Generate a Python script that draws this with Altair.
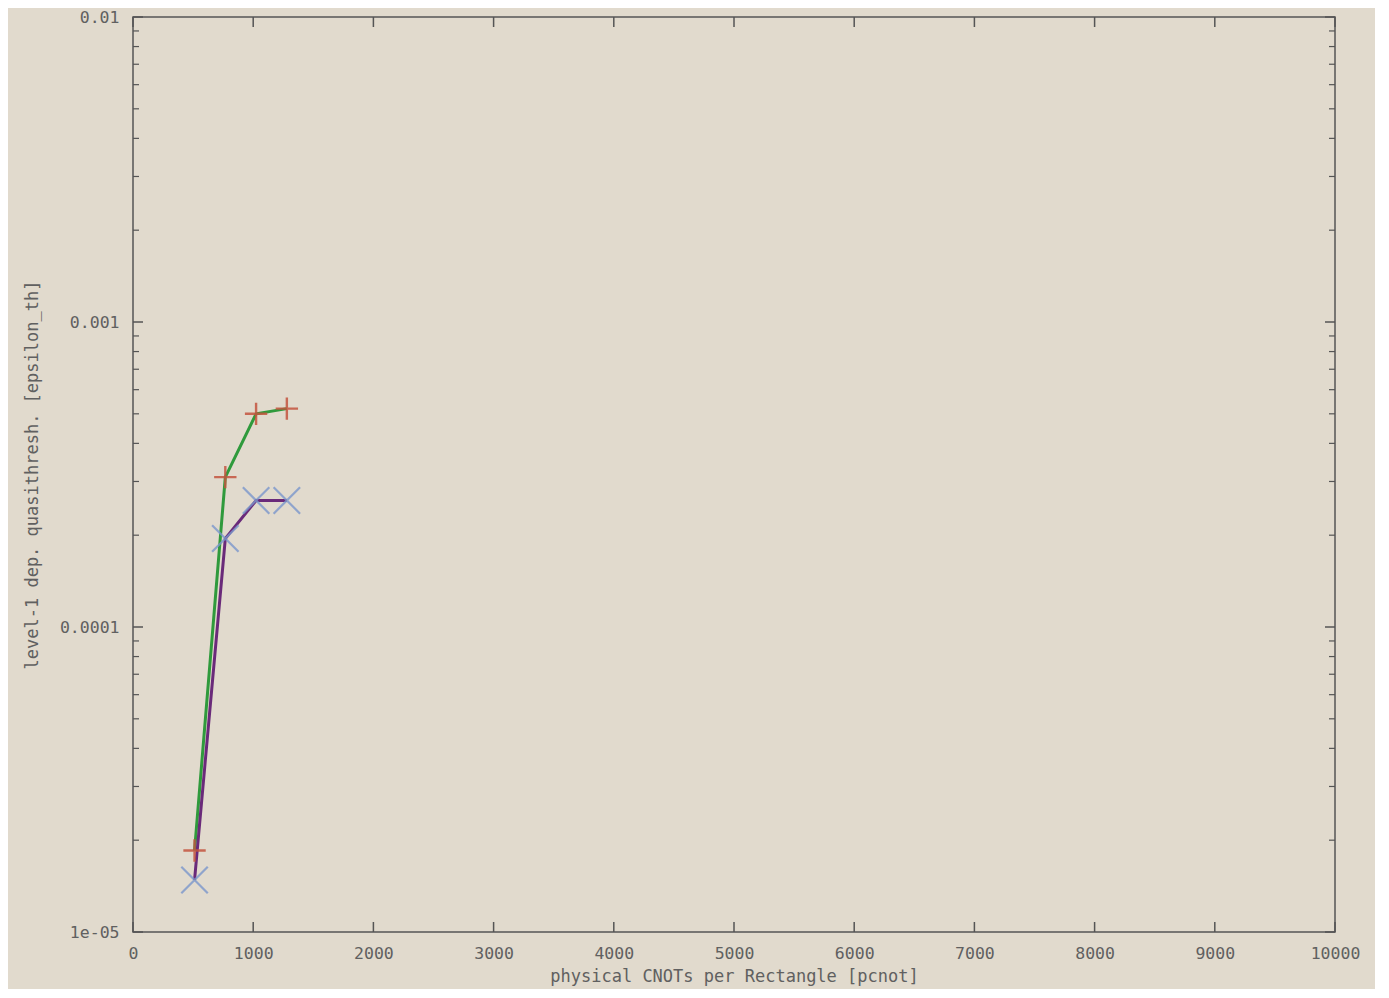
import altair as alt
import pandas as pd

# data
cnots = [512, 768, 1024, 1280]
thresh_plus = [1.85e-5, 3.1e-4, 5.0e-4, 5.2e-4]
thresh_cross = [1.48e-5, 1.95e-4, 2.6e-4, 2.6e-4]

x_ticks = [0, 1000, 2000, 3000, 4000, 5000, 6000, 7000, 8000, 9000, 10000]
y_ticks = [1e-5, 1e-4, 1e-3, 1e-2]
y_tick_labels = ["1e-05", "0.0001", "0.001", "0.01"]
y_minor = [2e-5, 3e-5, 4e-5, 5e-5, 6e-5, 7e-5, 8e-5, 9e-5,
           2e-4, 3e-4, 4e-4, 5e-4, 6e-4, 7e-4, 8e-4, 9e-4,
           2e-3, 3e-3, 4e-3, 5e-3, 6e-3, 7e-3, 8e-3, 9e-3]

W, H = 1202, 915
BG = "#e1dacd"
AX = "#555555"
TXT = "#606060"
FONT = "DejaVu Sans Mono"

df_plus = pd.DataFrame({"x": cnots, "y": thresh_plus})
df_cross = pd.DataFrame({"x": cnots, "y": thresh_cross})
df_xt = pd.DataFrame({"x": x_ticks})
df_yt = pd.DataFrame({"y": y_ticks})
df_ym = pd.DataFrame({"y": y_minor})

label_expr = " : ".join(
    [f"datum.value >= {v*0.5} ? '{l}'" for v, l in zip(y_ticks[::-1], y_tick_labels[::-1])][:-1]
) + f" : '{y_tick_labels[0]}'"

xs = alt.Scale(domain=[0, 10000], nice=False, zero=False)
ys = alt.Scale(type="log", domain=[1e-5, 1e-2], nice=False)

xaxis = alt.Axis(values=x_ticks, format="d", ticks=False, domain=False, grid=False,
                 labelFont=FONT, labelFontSize=16.5, labelColor=TXT, labelPadding=13,
                 titleFont=FONT, titleFontSize=17, titleColor=TXT, titleFontWeight="normal",
                 titlePadding=7, labelFlush=False)
yaxis = alt.Axis(values=y_ticks, labelExpr=label_expr, ticks=False, domain=False, grid=False,
                 labelFont=FONT, labelFontSize=16.5, labelColor=TXT, labelPadding=14,
                 titleFont=FONT, titleFontSize=17, titleColor=TXT, titleFontWeight="normal",
                 titlePadding=18, labelFlush=False)

XT = "physical CNOTs per Rectangle [pcnot]"
YT = "level-1 dep. quasithresh. [epsilon_th]"

def xenc():
    return alt.X("x:Q", scale=xs, axis=xaxis, title=XT)

def yenc():
    return alt.Y("y:Q", scale=ys, axis=yaxis, title=YT)

green = alt.Chart(df_plus).mark_line(color="#2f9a3c", strokeWidth=3).encode(x=xenc(), y=yenc())
purple = alt.Chart(df_cross).mark_line(color="#6a2a7a", strokeWidth=3).encode(x=xenc(), y=yenc())
plus = alt.Chart(df_plus).mark_point(
    shape="M-1,0L1,0M0,-1L0,1", size=500, filled=False, color="#c4553f",
    strokeWidth=2.4, opacity=0.85).encode(x=xenc(), y=yenc())
cross = alt.Chart(df_cross).mark_point(
    shape="M-1,-1L1,1M1,-1L-1,1", size=700, filled=False, color="#7b97cc",
    strokeWidth=2.2, opacity=0.8).encode(x=xenc(), y=yenc())

tick_color = AX
xt_bottom = alt.Chart(df_xt).mark_rule(color=tick_color, strokeWidth=1.5).encode(
    x=xenc(), y=alt.value(H), y2=alt.value(H - 10))
xt_top = alt.Chart(df_xt).mark_rule(color=tick_color, strokeWidth=1.5).encode(
    x=xenc(), y=alt.value(0), y2=alt.value(10))
yt_left = alt.Chart(df_yt).mark_rule(color=tick_color, strokeWidth=1.5).encode(
    y=yenc(), x=alt.value(0), x2=alt.value(10))
yt_right = alt.Chart(df_yt).mark_rule(color=tick_color, strokeWidth=1.5).encode(
    y=yenc(), x=alt.value(W), x2=alt.value(W - 10))
ym_left = alt.Chart(df_ym).mark_rule(color=tick_color, strokeWidth=1.2).encode(
    y=yenc(), x=alt.value(0), x2=alt.value(6))
ym_right = alt.Chart(df_ym).mark_rule(color=tick_color, strokeWidth=1.2).encode(
    y=yenc(), x=alt.value(W), x2=alt.value(W - 6))

chart = alt.layer(
    xt_bottom, xt_top, yt_left, yt_right, ym_left, ym_right,
    green, purple, plus, cross
).properties(
    width=W, height=H,
    background=BG,
    padding={"left": 125, "top": 9, "right": 40, "bottom": 57},
    autosize=alt.AutoSizeParams(type="none"),
).configure_view(
    stroke=AX, strokeWidth=1.5, fill=BG
)

chart.save("out.html", embed_options={"renderer": "svg", "actions": False})
